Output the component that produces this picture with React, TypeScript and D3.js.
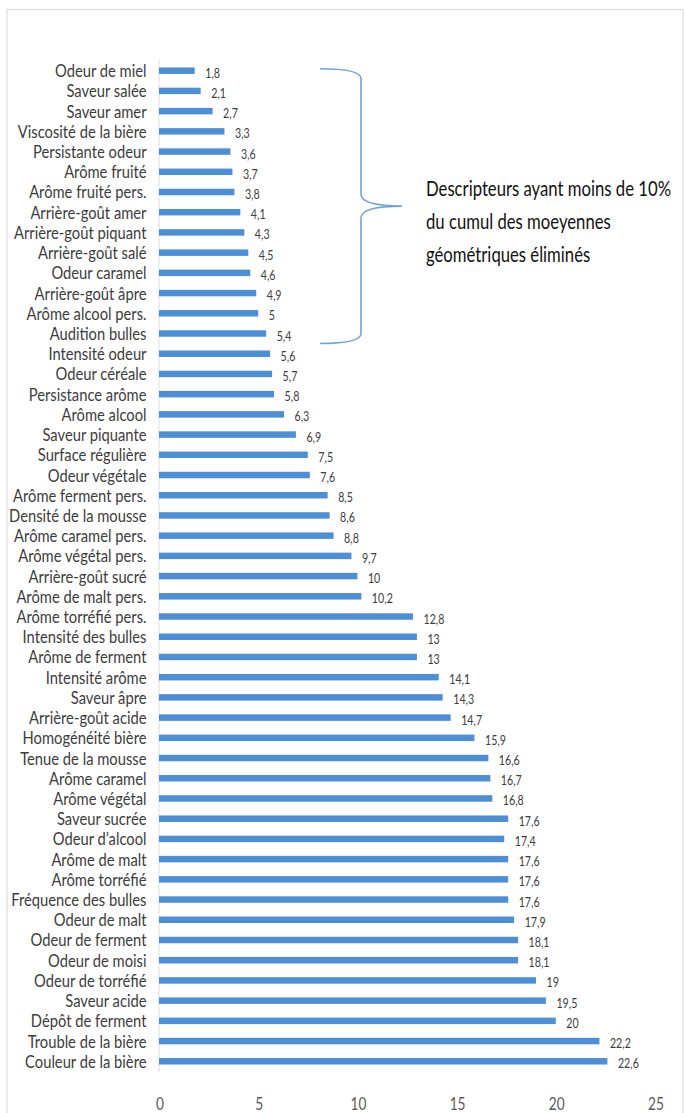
import React from "react";
import * as d3 from "d3";

// Sensory descriptors and their geometric means, top to bottom
const categories = [
  "Odeur de miel", "Saveur salée", "Saveur amer", "Viscosité de la bière",
  "Persistante odeur", "Arôme fruité", "Arôme fruité pers.", "Arrière-goût amer",
  "Arrière-goût piquant", "Arrière-goût salé", "Odeur caramel", "Arrière-goût âpre",
  "Arôme alcool pers.", "Audition bulles", "Intensité odeur", "Odeur céréale",
  "Persistance arôme", "Arôme alcool", "Saveur piquante", "Surface régulière",
  "Odeur végétale", "Arôme ferment pers.", "Densité de la mousse", "Arôme caramel pers.",
  "Arôme végétal pers.", "Arrière-goût sucré", "Arôme de malt pers.", "Arôme torréfié pers.",
  "Intensité des bulles", "Arôme de ferment", "Intensité arôme", "Saveur âpre",
  "Arrière-goût acide", "Homogénéité bière", "Tenue de la mousse", "Arôme caramel",
  "Arôme végétal", "Saveur sucrée", "Odeur d’alcool", "Arôme de malt",
  "Arôme torréfié", "Fréquence des bulles", "Odeur de malt", "Odeur de ferment",
  "Odeur de moisi", "Odeur de torréfié", "Saveur acide", "Dépôt de ferment",
  "Trouble de la bière", "Couleur de la bière",
];

const values = [
  1.8, 2.1, 2.7, 3.3,
  3.6, 3.7, 3.8, 4.1,
  4.3, 4.5, 4.6, 4.9,
  5, 5.4, 5.6, 5.7,
  5.8, 6.3, 6.9, 7.5,
  7.6, 8.5, 8.6, 8.8,
  9.7, 10, 10.2, 12.8,
  13, 13, 14.1, 14.3,
  14.7, 15.9, 16.6, 16.7,
  16.8, 17.6, 17.4, 17.6,
  17.6, 17.6, 17.9, 18.1,
  18.1, 19, 19.5, 20,
  22.2, 22.6,
];

const xTicks = [0, 5, 10, 15, 20, 25];

// Number of leading descriptors grouped by the brace
const bracedCount = 14;

const noteLines = [
  "Descripteurs ayant moins de 10%",
  "du cumul des moeyennes",
  "géométriques éliminés",
];

const W = 685;
const H = 1113;
const FONT = "Lato, 'Open Sans', sans-serif";
const BAR = "#4d8fd6";

const fmt = (v: number) => String(v).replace(".", ",");

export default function App() {
  const step = 20.216;
  const firstCenter = 70.7;
  const y = d3
    .scaleBand<string>()
    .domain(categories)
    .range([firstCenter - step / 2, firstCenter - step / 2 + step * categories.length])
    .paddingInner(0.68)
    .paddingOuter(0.34);

  const x = d3.scaleLinear().domain([0, 25]).range([159, 655]);

  const data = categories.map((c, i) => ({ c, v: values[i] }));

  const cy = (c: string) => (y(c) as number) + y.bandwidth() / 2;

  // brace spanning the first group of descriptors
  const top = cy(categories[0]) - 2;
  const bottom = cy(categories[bracedCount - 1]) + 10;
  const mid = (top + bottom) / 2;
  const bx = 361;
  const bl = 320;
  const tip = 402;
  const brace = d3.path();
  brace.moveTo(bl, top);
  brace.quadraticCurveTo(bx, top, bx, top + 10);
  brace.lineTo(bx, mid - 12);
  brace.quadraticCurveTo(bx, mid, tip, mid);
  brace.quadraticCurveTo(bx, mid, bx, mid + 12);
  brace.lineTo(bx, bottom - 10);
  brace.quadraticCurveTo(bx, bottom, bl, bottom);

  return (
    <svg
      width={W}
      height={H}
      style={{ position: "absolute", left: 0, top: 0, display: "block", background: "#fff" }}
    >
      <rect x={7} y={9.5} width={676} height={H + 10} fill="#fff" stroke="#dcdcdc" strokeWidth={1.2} />

      {/* value axis line */}
      <line x1={x(0)} x2={x(0)} y1={60} y2={1072} stroke="#dedede" strokeWidth={1} />

      {/* bars */}
      {data.map((d) => (
        <rect
          key={d.c}
          x={x(0)}
          y={y(d.c)}
          width={x(d.v) - x(0)}
          height={y.bandwidth()}
          fill={BAR}
        />
      ))}

      {/* category labels */}
      {data.map((d) => (
        <g key={"l" + d.c} transform={`translate(146.5, ${cy(d.c) + 6.5}) scale(0.82,1)`}>
          <text textAnchor="end" fontFamily={FONT} fontSize={18} fill="#3c3c3c">
            {d.c}
          </text>
        </g>
      ))}

      {/* value labels */}
      {data.map((d) => (
        <g key={"v" + d.c} transform={`translate(${x(d.v) + 10.5}, ${cy(d.c) + 7}) scale(0.82,1)`}>
          <text fontFamily={FONT} fontSize={13} fill="#3c3c3c">
            {fmt(d.v)}
          </text>
        </g>
      ))}

      {/* x tick labels */}
      {xTicks.map((t) => (
        <g key={"t" + t} transform={`translate(${x(t) + 1}, 1110) scale(0.76,1)`}>
          <text textAnchor="middle" fontFamily={FONT} fontSize={18} fill="#595959">
            {t}
          </text>
        </g>
      ))}

      {/* brace and note */}
      <path d={brace.toString()} fill="none" stroke="#6fa3dc" strokeWidth={1.6} />
      {noteLines.map((line, i) => (
        <g key={"n" + i} transform={`translate(426, ${top + 127 + i * 33}) scale(0.795,1)`}>
          <text fontFamily={FONT} fontSize={21} fill="#111">
            {line}
          </text>
        </g>
      ))}
    </svg>
  );
}
